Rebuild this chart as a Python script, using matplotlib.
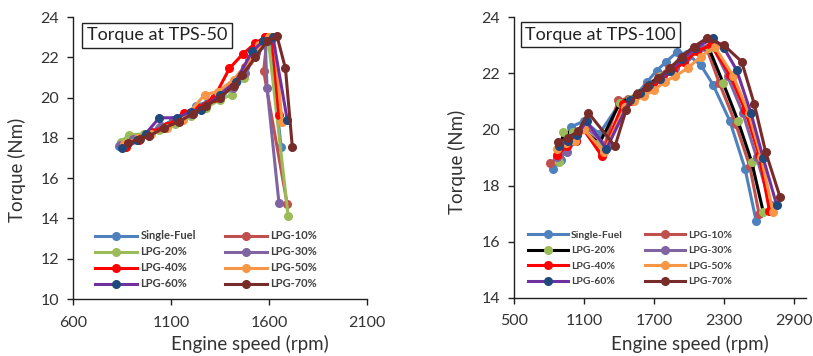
import numpy as np
import matplotlib
matplotlib.use("Agg")
import matplotlib.pyplot as plt

plt.rcParams["font.family"] = ["Lato", "DejaVu Sans"]

labels = ["Single-Fuel", "LPG-10%", "LPG-20%", "LPG-30%",
          "LPG-40%", "LPG-50%", "LPG-60%", "LPG-70%"]

# TPS-50 (left)
rpm50 = [
    [833, 900, 965, 1040, 1110, 1180, 1226, 1290, 1360, 1430, 1500, 1560, 1600, 1662],
    [850, 915, 985, 1060, 1130, 1200, 1270, 1340, 1410, 1480, 1540, 1590, 1573, 1693],
    [845, 884, 960, 1040, 1120, 1200, 1280, 1350, 1410, 1470, 1530, 1595, 1698],
    [840, 905, 975, 1050, 1125, 1200, 1275, 1345, 1415, 1480, 1535, 1580, 1590, 1651],
    [870, 935, 1000, 1080, 1165, 1240, 1320, 1398, 1465, 1530, 1580, 1615, 1650],
    [860, 930, 1000, 1080, 1160, 1272, 1340, 1420, 1496, 1550, 1600, 1625, 1667],
    [850, 925, 970, 1040, 1130, 1200, 1255, 1350, 1430, 1514, 1570, 1620, 1693],
    [880, 940, 988, 1065, 1140, 1210, 1280, 1350, 1420, 1462, 1530, 1590, 1641, 1684, 1719],
]
trq50 = [
    [17.6, 17.9, 18.2, 18.5, 18.9, 19.2, 19.6, 19.8, 20.3, 20.9, 21.9, 22.6, 23.0, 17.55],
    [17.7, 18.0, 18.2, 18.5, 18.8, 19.2, 19.6, 20.0, 20.6, 21.5, 22.4, 23.0, 21.3, 14.7],
    [17.8, 18.15, 18.2, 18.4, 18.7, 19.1, 19.5, 19.9, 20.15, 21.0, 22.3, 23.0, 14.1],
    [17.65, 17.95, 18.2, 18.6, 18.9, 19.2, 19.6, 20.0, 20.5, 21.2, 22.2, 23.0, 20.5, 14.75],
    [17.55, 17.9, 18.3, 18.6, 19.25, 19.5, 20.0, 21.45, 22.15, 22.7, 23.0, 23.0, 19.15],
    [17.7, 18.0, 18.2, 18.5, 18.9, 20.15, 20.3, 20.9, 21.8, 22.6, 23.0, 23.0, 18.8],
    [17.5, 17.9, 18.2, 19.0, 19.0, 19.3, 19.4, 20.15, 20.8, 22.3, 22.8, 23.0, 18.9],
    [17.75, 17.95, 18.1, 18.5, 18.8, 19.2, 19.6, 20.0, 20.6, 21.1, 22.0, 22.8, 23.05, 21.45, 17.55],
]

# TPS-100 (right)
rpm100 = [
    [835, 900, 990, 1100, 1230, 1400, 1480, 1560, 1640, 1722, 1800, 1893, 1980, 2100, 2205, 2350, 2480, 2575],
    [806, 880, 990, 1090, 1250, 1393, 1480, 1560, 1650, 1740, 1830, 1930, 2050, 2150, 2260, 2400, 2520, 2600],
    [880, 920, 1000, 1090, 1230, 1407, 1490, 1570, 1660, 1750, 1850, 1950, 2060, 2170, 2293, 2420, 2537, 2637],
    [870, 950, 1030, 1110, 1300, 1440, 1520, 1600, 1690, 1780, 1880, 1980, 2090, 2200, 2330, 2460, 2580, 2700],
    [870, 950, 1030, 1100, 1250, 1430, 1510, 1590, 1680, 1770, 1860, 1960, 2070, 2190, 2350, 2480, 2600, 2690],
    [870, 940, 1020, 1100, 1270, 1450, 1530, 1610, 1700, 1790, 1880, 1993, 2100, 2220, 2380, 2510, 2620, 2720],
    [880, 960, 1040, 1120, 1290, 1493, 1580, 1660, 1750, 1840, 1940, 2050, 2205, 2300, 2408, 2530, 2637, 2752],
    [878, 960, 1050, 1135, 1364, 1460, 1550, 1640, 1736, 1840, 1936, 2040, 2151, 2300, 2451, 2560, 2657, 2780],
]
trq100 = [
    [18.6, 18.9, 20.1, 20.3, 19.85, 20.9, 21.0, 21.3, 21.7, 22.1, 22.4, 22.75, 22.7, 22.3, 21.6, 20.3, 18.6, 16.75],
    [18.8, 19.0, 19.7, 20.0, 19.1, 21.05, 21.1, 21.3, 21.6, 21.9, 22.2, 22.5, 22.8, 22.9, 21.65, 20.2, 18.7, 17.0],
    [18.85, 19.9, 19.9, 20.0, 19.5, 20.95, 21.1, 21.3, 21.6, 21.9, 22.2, 22.5, 22.8, 22.9, 21.65, 20.3, 18.85, 17.05],
    [19.0, 19.2, 19.6, 20.1, 19.4, 20.8, 21.0, 21.3, 21.6, 21.9, 22.2, 22.6, 22.9, 23.0, 21.9, 20.6, 19.0, 17.3],
    [19.1, 19.4, 19.6, 20.0, 19.05, 20.9, 21.0, 21.3, 21.5, 21.8, 22.1, 22.4, 22.8, 23.0, 21.95, 20.7, 19.1, 17.1],
    [19.3, 19.5, 19.6, 20.0, 19.2, 20.8, 21.0, 21.2, 21.4, 21.7, 21.9, 22.2, 22.6, 22.95, 21.9, 20.6, 19.0, 17.05],
    [19.4, 19.6, 19.8, 20.3, 19.3, 21.05, 21.3, 21.6, 21.8, 22.1, 22.5, 22.9, 23.25, 22.9, 22.12, 20.6, 18.97, 17.3],
    [19.55, 19.7, 19.95, 20.6, 19.4, 20.7, 21.25, 21.5, 21.82, 22.2, 22.6, 22.95, 23.25, 23.0, 22.42, 20.9, 19.2, 17.6],
]

line_cols50 = ["#4F81BD", "#C0504D", "#9BBB59", "#8064A2", "#FF0000", "#F79646", "#7030A0", "#772C2A"]
mark_cols50 = ["#4F81BD", "#C0504D", "#9BBB59", "#8064A2", "#FF0000", "#F79646", "#1F497D", "#772C2A"]
line_cols100 = ["#4F81BD", "#C0504D", "#000000", "#8064A2", "#FF0000", "#F79646", "#7030A0", "#772C2A"]
mark_cols100 = ["#4F81BD", "#C0504D", "#9BBB59", "#8064A2", "#FF0000", "#F79646", "#1F497D", "#772C2A"]

fig = plt.figure(figsize=(8.13, 3.56), dpi=100)
ax1 = fig.add_axes([0.0898, 0.160, 0.3616, 0.792])
ax2 = fig.add_axes([0.6326, 0.1638, 0.3583, 0.7876])

panels = [
    (ax1, rpm50, trq50, line_cols50, mark_cols50, (600, 2100), np.arange(600, 2101, 500),
     (10, 24), "Torque at TPS-50", (0.286, 0.936), (0.602, -0.128), (-0.16, 0.457),
     (0.075, 0.034), 8, 2.6, 0.45),
    (ax2, rpm100, trq100, line_cols100, mark_cols100, (500, 3000), np.arange(500, 2901, 600),
     (14, 24), "Torque at TPS-100", (0.296, 0.937), (0.603, -0.134), (-0.166, 0.484),
     (0.047, 0.04), 7.5, 2.2, 0.6),
]

# row-major legend order (matplotlib fills columns first)
order = [0, 2, 4, 6, 1, 3, 5, 7]

for (ax, xs, ys, lc, mc, xl, xt, yl, title, tpos, xlpos, ylpos, legpos,
     legfs, colsp, labsp) in panels:
    for i in range(len(labels)):
        ax.plot(xs[i], ys[i], color=lc[i], lw=2.2, marker="o", ms=5.5,
                mfc=mc[i], mec=mc[i], label=labels[i], solid_joinstyle="round")
    ax.set_xlim(*xl)
    ax.set_ylim(*yl)
    ax.set_xticks(xt)
    ax.set_yticks(np.arange(yl[0], yl[1] + 1, 2))
    for s in ["top", "right"]:
        ax.spines[s].set_visible(False)
    for s in ["left", "bottom"]:
        ax.spines[s].set_color("#202020")
        ax.spines[s].set_linewidth(1.0)
    ax.tick_params(axis="both", direction="out", length=4, width=1, color="#202020",
                   labelsize=11.5, labelcolor="#333333")
    ax.tick_params(axis="x", pad=8)
    ax.tick_params(axis="y", pad=6)
    ax.set_xlabel("Engine speed (rpm)", fontsize=13.5, color="#333333")
    ax.set_ylabel("Torque (Nm)", fontsize=13.5, color="#333333")
    ax.xaxis.set_label_coords(*xlpos)
    ax.yaxis.set_label_coords(*ylpos)
    ax.text(tpos[0], tpos[1], title, transform=ax.transAxes, ha="center", va="center",
            fontsize=13, color="#222222",
            bbox=dict(boxstyle="square,pad=0.25", fc="white", ec="#222222", lw=1))
    h, l = ax.get_legend_handles_labels()
    leg = ax.legend([h[k] for k in order], [l[k] for k in order], ncol=2,
                    loc="lower left", bbox_to_anchor=legpos, frameon=False,
                    fontsize=legfs, handlelength=3.8, handletextpad=0.3,
                    columnspacing=colsp, labelspacing=labsp, borderaxespad=0,
                    borderpad=0)
    for t in leg.get_texts():
        t.set_color("#404040")
        t.set_fontweight("bold")

fig.savefig("out.png", dpi=100)
